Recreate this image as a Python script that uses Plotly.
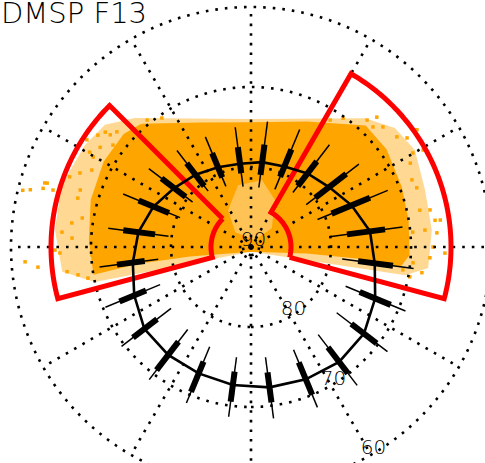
import numpy as np
import plotly.graph_objects as go

# ---- statistics of boundary latitude per MLT hour bin ----
mlt_bins = [0.5, 1.5, 2.5, 3.5, 4.5, 5.5, 6.5, 7.5, 8.5, 9.5, 10.5, 11.5,
            12.5, 13.5, 14.5, 15.5, 16.5, 17.5, 18.5, 19.5, 20.5, 21.5, 22.5, 23.5]
lat_lo = [68.4, 68.3, 68.2, 68.5, 69.1, 69.5, 70.9, 71.5, 73.0, 73.9, 74.1, 74.2,
          74.9, 75.1, 74.8, 73.9, 72.7, 72.0, 70.9, 70.3, 69.6, 69.1, 68.9, 68.6]
lat_q1 = [70.4, 70.0, 70.1, 70.2, 71.1, 72.1, 73.1, 73.9, 75.0, 76.5, 76.8, 77.1,
          77.4, 77.3, 76.8, 75.9, 74.8, 73.9, 73.1, 72.2, 71.4, 70.6, 70.4, 70.5]
lat_med = [72.3, 72.1, 71.9, 72.2, 73.2, 74.4, 75.0, 76.4, 77.7, 78.4, 79.1, 79.3,
           79.5, 79.2, 78.6, 77.9, 76.8, 75.8, 75.1, 74.2, 73.2, 73.0, 72.9, 72.6]
lat_q3 = [74.2, 74.4, 74.2, 74.2, 75.3, 76.5, 77.9, 79.1, 79.9, 80.4, 80.5, 80.9,
          80.7, 80.6, 80.4, 79.7, 78.9, 77.9, 76.6, 75.8, 75.2, 75.1, 74.5, 74.3]
lat_hi = [76.1, 76.1, 76.2, 76.5, 77.2, 78.5, 80.1, 81.0, 81.3, 81.4, 82.2, 82.5,
          82.4, 81.8, 81.2, 80.8, 80.4, 79.6, 78.3, 77.7, 77.4, 77.0, 76.5, 76.1]

# ---- DMSP F13 data coverage: dense core outline (lat, MLT) ----
dense_lat = [69.55, 73.35, 74.6, 73.0, 69.3, 69.3, 69.9, 70.2, 70.35, 71.25,
             76.7, 83.0, 89.6, 82.3, 76.0, 70.2, 69.9, 69.3, 68.9, 68.9]
dense_mlt = [14.79, 13.5, 12.0, 10.38, 9.1, 8.39, 7.46, 6.65, 5.81, 5.54,
             5.64, 5.66, 0.0, 18.5, 18.51, 18.63, 17.83, 16.9, 15.99, 15.23]

# ---- outer envelope of the thinner coverage (lat, MLT) ----
halo_lat = [68.3, 74.0, 68.5, 66.65, 66.2, 67.1, 67.3, 67.7, 70.4, 89.4,
            70.0, 66.2, 65.4, 65.1, 65.65, 66.2]
halo_mlt = [14.8, 12.0, 9.23, 8.64, 8.04, 7.21, 6.36, 5.55, 5.31, 0.0,
            18.84, 18.5, 17.67, 16.79, 15.89, 15.34]

# ---- thinly covered patch near the pole (lat, MLT) ----
gap_lat = [82.1, 81.5, 83.4, 86.5, 89.0, 87.3, 84.6]
gap_mlt = [12.79, 11.38, 10.2, 8.81, 10.02, 15.12, 14.13]

# ---- sparse individual points around the core (lat, MLT) ----
sparse_lat = [60.6, 61.5, 63.0, 63.0, 64.25, 63.25, 61.7, 67.5, 68.6, 66.3, 67.6, 66.8,
              68.1, 70.6, 65.5, 66.7, 66.3, 67.5, 67.4, 65.7, 67.5, 66.6, 68.55, 65.5,
              63.3, 67.4, 66.1, 67.3, 67.9, 67.9, 69.5, 70.4, 66.8,
              68.6, 67.7, 67.15, 66.6, 68.2, 68.4, 67.15, 68.15, 66.7, 66.1, 68.4, 67.25,
              65.75, 69.8, 67.5, 68.5, 67.4, 66.2, 68.0, 69.7, 71.3, 70.2, 64.6, 65.3,
              66.75, 67.6, 70.8, 70.1, 69.25, 69.65]
sparse_mlt = [17.07, 17.03, 16.95, 16.85, 16.93, 18.36, 18.25, 16.77, 17.35, 17.7, 17.81, 18.51,
              18.61, 18.49, 18.06, 16.44, 15.59, 15.43, 15.77, 16.59, 16.95, 15.97, 15.57, 15.79,
              16.84, 17.49, 18.12, 16.02, 15.29, 16.28, 14.62, 14.31, 15.45,
              8.97, 8.82, 8.47, 8.01, 7.51, 6.82, 6.78, 6.37, 6.29, 6.54, 5.43, 6.0,
              5.88, 5.29, 7.85, 9.17, 9.06, 8.33, 7.31, 6.35, 9.87, 9.63, 8.35, 7.96,
              6.55, 5.77, 5.43, 18.19, 18.72, 5.63]

# ---- selection sectors (MLT start, MLT end, lat low, lat high) ----
sector_left = [15.0, 19.0, 65.0, 85.0]
sector_right = [5.0, 10.0, 65.0, 85.0]

grid_lats = [89, 80, 70, 60]
grid_mlts = [0, 2, 4, 6, 8, 10, 12, 14, 16, 18, 20, 22]
label_lats = [90, 80, 70, 60]
label_mlt = 2.0
title_text = "DMSP F13"

R_MAX = 30.875          # colatitude at the edge of the polar frame
FRAME = 494             # polar frame size in px (8 px per degree)


def th(m):
    return np.asarray(m, dtype=float) * 15.0


def rr(lat):
    return 90.0 - np.asarray(lat, dtype=float)


def closed(a):
    return list(a) + list(a[:1])


fig = go.Figure()

# coverage
fig.add_trace(go.Scatterpolar(r=rr(closed(halo_lat)), theta=th(closed(halo_mlt)),
                              mode="lines", fill="toself", fillcolor="rgba(255,165,0,0.42)",
                              line=dict(width=0), hoverinfo="skip"))
fig.add_trace(go.Scatterpolar(r=rr(closed(dense_lat)), theta=th(closed(dense_mlt)),
                              mode="lines", fill="toself", fillcolor="#FFA500",
                              line=dict(color="#FFA500", width=3), hoverinfo="skip"))
fig.add_trace(go.Scatterpolar(r=rr(closed(gap_lat)), theta=th(closed(gap_mlt)),
                              mode="lines", fill="toself", fillcolor="rgba(255,255,255,0.33)",
                              line=dict(width=0), hoverinfo="skip"))
fig.add_trace(go.Scatterpolar(r=rr(sparse_lat), theta=th(sparse_mlt), mode="markers",
                              marker=dict(color="#FFA500", size=3.5, symbol="square"),
                              hoverinfo="skip"))

# dotted grid
dash = "2.6px,7px"
for la in grid_lats:
    t = np.linspace(0, 360, 721)
    fig.add_trace(go.Scatterpolar(r=np.full_like(t, 90.0 - la), theta=t, mode="lines",
                                  line=dict(color="black", width=2.6, dash=dash), hoverinfo="skip"))
for m in grid_mlts:
    fig.add_trace(go.Scatterpolar(r=[0, 30], theta=[m * 15, m * 15], mode="lines",
                                  line=dict(color="black", width=2.6, dash=dash), hoverinfo="skip"))

# sectors
for s in (sector_left, sector_right):
    m0, m1, la0, la1 = s
    inner = np.linspace(m0, m1, 60)
    outer = np.linspace(m1, m0, 80)
    rs = np.concatenate([np.full(60, 90 - la1), np.full(80, 90 - la0), [90 - la1]])
    ts = np.concatenate([inner, outer, [m0]]) * 15
    fig.add_trace(go.Scatterpolar(r=rs, theta=ts, mode="lines",
                                  line=dict(color="#FF0000", width=5), hoverinfo="skip"))

# whiskers
r_thin, t_thin, r_box, t_box = [], [], [], []
for m, lo, q1, q3, hi in zip(mlt_bins, lat_lo, lat_q1, lat_q3, lat_hi):
    r_thin += [90 - lo, 90 - hi, None]
    t_thin += [m * 15, m * 15, None]
    r_box += [90 - q1, 90 - q3, None]
    t_box += [m * 15, m * 15, None]
fig.add_trace(go.Scatterpolar(r=r_thin, theta=t_thin, mode="lines",
                              line=dict(color="black", width=1.5), hoverinfo="skip"))
fig.add_trace(go.Scatterpolar(r=r_box, theta=t_box, mode="lines",
                              line=dict(color="black", width=6), hoverinfo="skip"))
fig.add_trace(go.Scatterpolar(r=rr(closed(lat_med)), theta=th(closed(mlt_bins)),
                              mode="lines", line=dict(color="black", width=2.6), hoverinfo="skip"))

# latitude labels (text sits just above its ring point)
label_pad = 0.6
fig.add_trace(go.Scatterpolar(r=rr(label_lats) + label_pad, theta=[label_mlt * 15] * len(label_lats),
                              mode="text", text=[str(v) for v in label_lats],
                              textposition="top center", cliponaxis=False,
                              textfont=dict(family="DejaVu Sans", size=20, color="black", weight=200),
                              hoverinfo="skip"))

fig.update_layout(
    width=500, height=496,
    margin=dict(l=4, r=2, t=0, b=2),
    paper_bgcolor="white", plot_bgcolor="white",
    showlegend=False,
    polar=dict(
        domain=dict(x=[0, 1], y=[0, 1]),
        bgcolor="white",
        radialaxis=dict(range=[0, R_MAX], visible=False, showgrid=False),
        angularaxis=dict(visible=False, showgrid=False, rotation=-90,
                         direction="counterclockwise"),
    ),
    annotations=[dict(text=title_text, xref="paper", yref="paper",
                      x=-5 / FRAME, y=1 + 6 / FRAME, xanchor="left", yanchor="top",
                      showarrow=False,
                      font=dict(family="DejaVu Sans", size=29, color="black", weight=200))],
)

fig.write_html("out.html",
               post_script="document.documentElement.style.overflow='hidden';document.body.style.overflow='hidden';")
